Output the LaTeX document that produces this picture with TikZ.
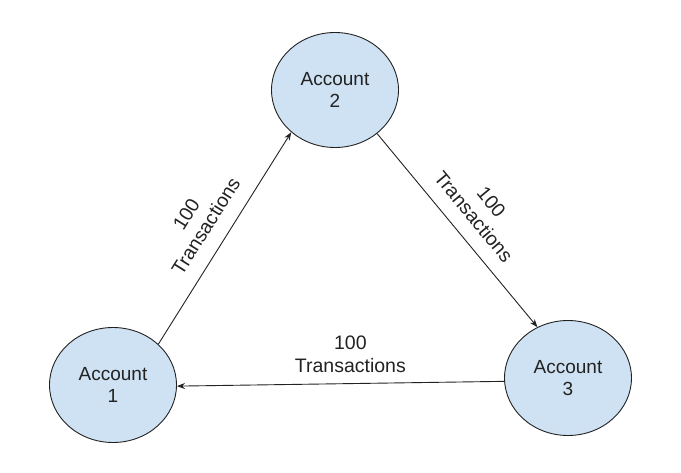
\documentclass[tikz,border=0pt]{standalone}
\usepackage{fontspec}
\setmainfont{Liberation Sans}
\usetikzlibrary{arrows.meta,shapes.geometric}
\definecolor{ink}{HTML}{222222}
\definecolor{bubble}{HTML}{CFE2F3}
\tikzset{
  every picture/.style={line width=0.9pt, draw=ink, text=ink},
  account/.style={ellipse, draw=ink, fill=bubble, minimum width=127pt, minimum height=115pt,
    align=center, inner sep=0pt, font=\fontsize{19}{22}\selectfont},
  note/.style={align=center, font=\fontsize{19.5}{23}\selectfont, inner sep=0pt},
  flow/.style={-{Stealth[length=8pt, width=6pt]}, draw=ink},
}
\begin{document}
\begin{tikzpicture}[x=1pt, y=-1pt]
\useasboundingbox (0,0) rectangle (681,472);
\node[account] (acc2) at (335,90) {Account\\2};
\node[account] (acc1) at (113,385) {Account\\1};
\node[account] (acc3) at (568,378) {Account\\3};
\draw[flow] (acc1.42) -- node[midway, sloped, note, above=15pt] {100\\Transactions} (acc2.224);
\draw[flow] (acc2.314) -- node[midway, sloped, note, above=14pt] {100\\Transactions} (acc3.121);
\draw[flow] (acc3.183) -- node[pos=0.47, note, above=10pt] {100\\Transactions} (acc1.359);
\end{tikzpicture}
\end{document}
